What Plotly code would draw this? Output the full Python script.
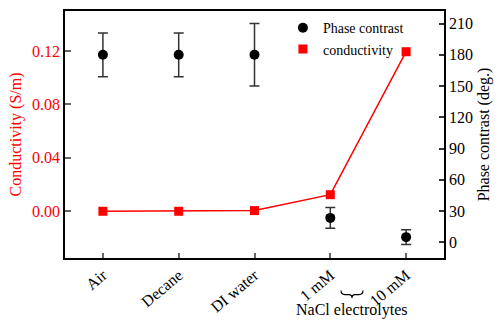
import plotly.graph_objects as go

categories = ["Air", "Decane", "DI water", "1 mM", "10 mM"]
conductivity = [0.0, 0.0, 0.0005, 0.0124, 0.1195]
phase = [180, 180, 180, 23.5, 5]
phase_err = [21, 21, 30, 10, 7]

FONT = "Liberation Serif"
x = list(range(len(categories)))

fig = go.Figure()
fig.add_trace(go.Scatter(
    x=x, y=phase, yaxis="y2", mode="markers", name="Phase contrast",
    marker=dict(symbol="circle", size=10, color="black"),
    error_y=dict(type="data", array=phase_err, visible=True, color="#333333",
                 thickness=1.5, width=5),
))
fig.add_trace(go.Scatter(
    x=x, y=conductivity, mode="lines", showlegend=False, hoverinfo="skip",
    line=dict(color="#ff0000", width=1.5),
))
fig.add_trace(go.Scatter(
    x=x, y=conductivity, mode="markers", name="conductivity",
    marker=dict(symbol="square", size=9, color="#ff0000"),
))

# decorative brace under the NaCl tick labels (pixel -> paper)
def px(xp, yp):
    return f"{(xp - 65) / 379:.5f},{(259 - yp) / 250:.5f}"

brace = (f"M{px(341, 292)} Q{px(341, 296)} {px(345, 296)} L{px(349, 296)} "
         f"Q{px(352, 296)} {px(352, 299.5)} Q{px(352, 296)} {px(355, 296)} "
         f"L{px(359, 296)} Q{px(363, 296)} {px(363, 292)}")
fig.add_shape(type="path", xref="paper", yref="paper", path=brace,
              line=dict(color="black", width=1.2))

fig.add_annotation(xref="paper", yref="paper", x=(352 - 65) / 379, y=-(312 - 259) / 250,
                   text="NaCl electrolytes", showarrow=False,
                   font=dict(family=FONT, size=16, color="black"),
                   xanchor="center", yanchor="middle")

fig.update_layout(
    width=500, height=325,
    margin=dict(l=65, r=56, t=9, b=66),
    paper_bgcolor="white", plot_bgcolor="white",
    font=dict(family=FONT, size=15, color="black"),
    showlegend=True,
    legend=dict(x=0.575, y=0.995, xanchor="left", yanchor="top", tracegroupgap=0,
                bgcolor="rgba(0,0,0,0)", font=dict(family=FONT, size=14, color="black")),
    xaxis=dict(
        range=[-0.5, 4.5], tickmode="array", tickvals=x, ticktext=categories,
        tickangle=-40, ticks="inside", ticklen=5, tickcolor="#666666", tickwidth=1.5,
        showline=True, linecolor="black", linewidth=1.5, mirror=True,
        showgrid=False, zeroline=False, tickfont=dict(family=FONT, size=16, color="black"),
    ),
    yaxis=dict(
        range=[-0.035, 0.15], tickmode="array", tickvals=[0, 0.04, 0.08, 0.12],
        ticktext=["0.00", "0.04", "0.08", "0.12"],
        ticks="inside", ticklen=6, tickcolor="#666666", tickwidth=1.5,
        showline=True, linecolor="black", linewidth=1.5,
        showgrid=False, zeroline=False,
        tickfont=dict(family=FONT, size=16, color="#ff0000"),
        title=dict(text="Conductivity (S/m)", font=dict(family=FONT, size=16, color="#ff0000"), standoff=6),
    ),
    yaxis2=dict(
        range=[-15, 222], overlaying="y", side="right",
        tickmode="array", tickvals=list(range(0, 211, 30)),
        ticks="inside", ticklen=5, tickcolor="#333333", tickwidth=1.5,
        showline=True, linecolor="black", linewidth=1.5,
        showgrid=False, zeroline=False,
        tickfont=dict(family=FONT, size=16, color="black"),
        title=dict(text="Phase contrast (deg.)", font=dict(family=FONT, size=16, color="black"), standoff=6),
    ),
)

fig.write_html("out.html")
